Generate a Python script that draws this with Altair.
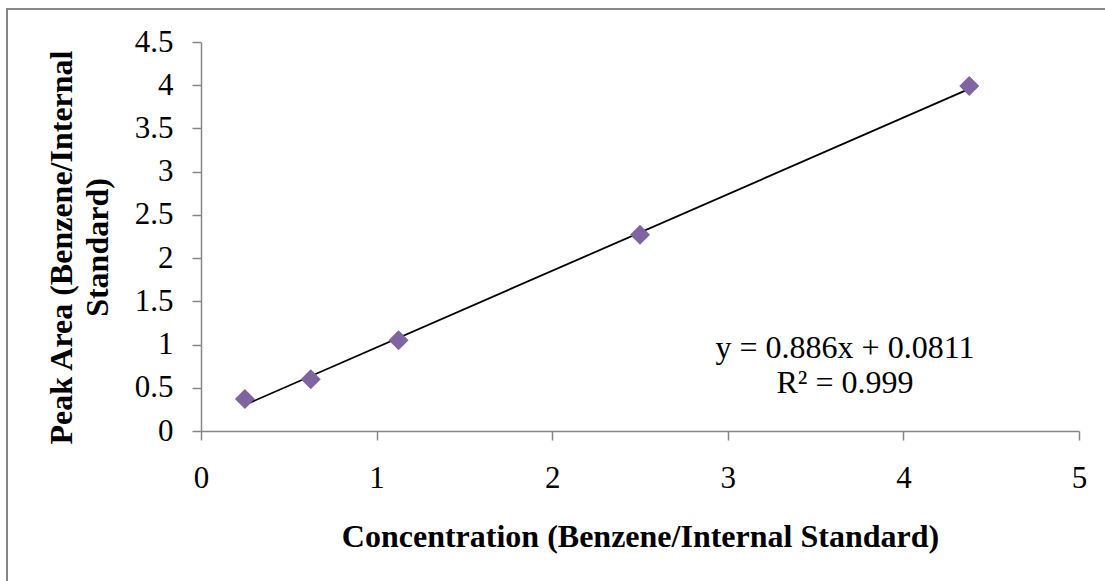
import altair as alt
import pandas as pd

# Calibration points: concentration ratio vs. peak-area ratio
concentration = [0.25, 0.625, 1.125, 2.5, 4.375]
peak_area = [0.37, 0.60, 1.05, 2.27, 3.99]

# Linear fit reported on the chart
slope = 0.886
intercept = 0.0811
r_squared = 0.999

x_ticks = [0, 1, 2, 3, 4, 5]
y_ticks = [0, 0.5, 1, 1.5, 2, 2.5, 3, 3.5, 4, 4.5]

SERIF = "Liberation Serif"
AXIS_GRAY = "#868686"
PLOT_W, PLOT_H = 878, 389
LEFT, TOP = 201, 42

points = pd.DataFrame({"x": concentration, "y": peak_area})
x_lo, x_hi = min(concentration), max(concentration)
fit = pd.DataFrame({
    "x": [x_lo, x_hi],
    "y": [slope * x_lo + intercept, slope * x_hi + intercept],
})

x_scale = alt.Scale(domain=[0, 5], nice=False, zero=True)
y_scale = alt.Scale(domain=[0, 4.5], nice=False, zero=True)

x_axis = alt.Axis(
    values=x_ticks, format="~g", grid=False, labelFlush=False,
    domainColor=AXIS_GRAY, tickColor=AXIS_GRAY, domainWidth=1.5, tickWidth=1.5,
    tickSize=9, labelPadding=23, labelFont=SERIF, labelFontSize=31,
    labelColor="black", labelBaseline="top",
    title="Concentration (Benzene/Internal Standard)",
    titleFont=SERIF, titleFontSize=32, titleFontWeight="bold", titleColor="black",
    titleX=PLOT_W / 2, titleY=115, titleAlign="center", titleBaseline="alphabetic",
)
y_axis = alt.Axis(
    values=y_ticks, format="~g", grid=False, labelFlush=False,
    domainColor=AXIS_GRAY, tickColor=AXIS_GRAY, domainWidth=1.5, tickWidth=1.5,
    tickSize=9, labelPadding=19, labelFont=SERIF, labelFontSize=31,
    labelColor="black", labelBaseline="middle",
    title=["Peak Area (Benzene/Internal", "Standard)"],
    titleFont=SERIF, titleFontSize=32, titleFontWeight="bold", titleColor="black",
    titleX=-130, titleY=205, titleAngle=270, titleAlign="center",
    titleBaseline="alphabetic", titleLineHeight=36,
)

# Outer chart frame
frame = alt.Chart(pd.DataFrame({"k": [0]})).mark_rect(
    fillOpacity=0, stroke=AXIS_GRAY, strokeWidth=2
).encode(
    x=alt.value(7 - LEFT), x2=alt.value(1120 - LEFT),
    y=alt.value(9 - TOP), y2=alt.value(600),
)

trend = alt.Chart(fit).mark_line(color="black", strokeWidth=1.8).encode(
    x=alt.X("x:Q", scale=x_scale, axis=x_axis),
    y=alt.Y("y:Q", scale=y_scale, axis=y_axis),
)

markers = alt.Chart(points).mark_point(
    shape="diamond", filled=True, size=400, color="#8064A2", opacity=1
).encode(
    x=alt.X("x:Q", scale=x_scale),
    y=alt.Y("y:Q", scale=y_scale),
)

eq_text = f"y = {slope}x + {intercept}"
r2_text = f"R² = {r_squared}"
label_df = pd.DataFrame({"k": [0]})
eq = alt.Chart(label_df).mark_text(
    font=SERIF, fontSize=32, align="center", baseline="alphabetic", color="black"
).encode(x=alt.value(644), y=alt.value(316), text=alt.value(eq_text))
r2 = alt.Chart(label_df).mark_text(
    font=SERIF, fontSize=32, align="center", baseline="alphabetic", color="black"
).encode(x=alt.value(644), y=alt.value(351), text=alt.value(r2_text))

chart = alt.layer(frame, trend, markers, eq, r2).properties(
    width=PLOT_W, height=PLOT_H,
    autosize=alt.AutoSizeParams(type="none"),
    padding={"left": LEFT, "top": TOP, "right": 1105 - LEFT - PLOT_W, "bottom": 581 - TOP - PLOT_H},
    background="white",
).configure_view(stroke=None)

chart.save("out.html", embed_options={"renderer": "svg", "actions": False})
